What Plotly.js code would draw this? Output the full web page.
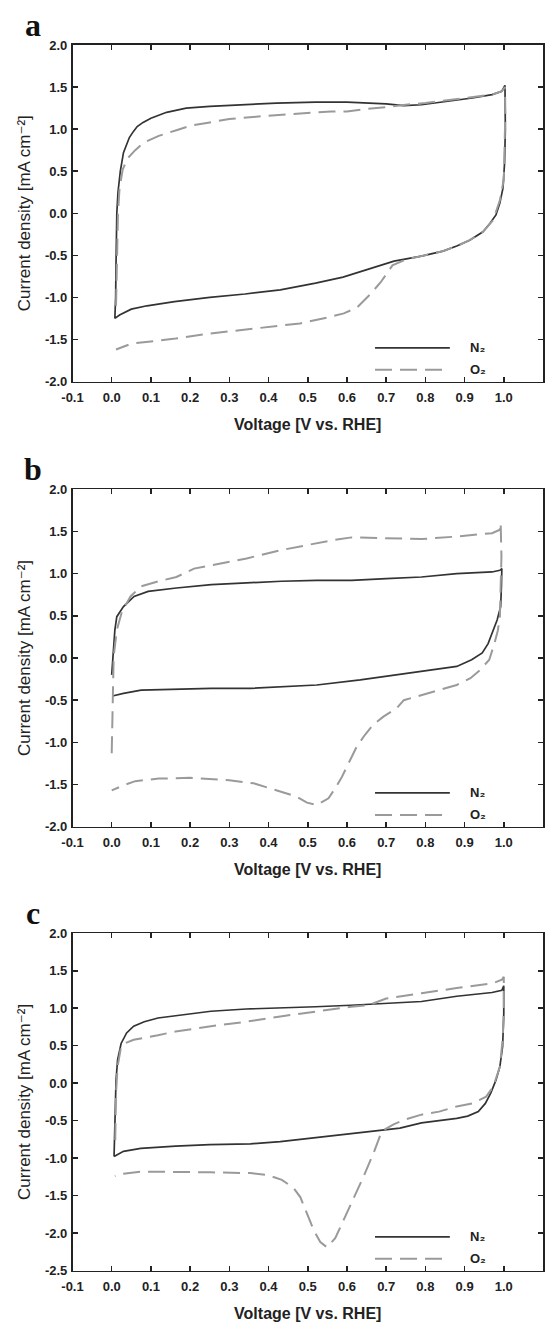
<!DOCTYPE html>
<html>
<head>
<meta charset="utf-8">
<script src="https://cdn.plot.ly/plotly-3.0.1.min.js"></script>
<style>html,body{margin:0;padding:0;background:#fff;}#chart{width:551px;height:1323px;}</style>
</head>
<body>
<div id="chart"></div>
<script>
// ---------- DATA ----------
// Panel a
const aN2V = [0.008,0.010,0.011,0.012,0.013,0.016,0.022,0.030,0.036,0.045,0.055,0.065,0.08,0.10,0.14,0.19,0.25,0.34,0.42,0.52,0.60,0.70,0.745,0.79,0.86,0.92,0.97,0.995,1.003,1.004,1.004,1.002,0.998,0.99,0.98,0.965,0.947,0.913,0.88,0.845,0.79,0.72,0.65,0.59,0.52,0.43,0.34,0.25,0.16,0.09,0.05,0.02,0.008];
const aN2J = [-1.25,-1.0,-0.6,-0.2,0.0,0.25,0.5,0.72,0.80,0.90,0.97,1.03,1.08,1.13,1.20,1.25,1.27,1.29,1.31,1.32,1.32,1.30,1.28,1.29,1.33,1.37,1.41,1.45,1.52,1.3,1.0,0.6,0.3,0.12,-0.02,-0.12,-0.22,-0.32,-0.39,-0.45,-0.51,-0.57,-0.67,-0.76,-0.83,-0.91,-0.96,-1.0,-1.05,-1.10,-1.14,-1.21,-1.25];
const aO2V = [0.011,0.012,0.014,0.016,0.020,0.028,0.04,0.06,0.082,0.12,0.167,0.20,0.25,0.30,0.40,0.50,0.56,0.60,0.65,0.70,0.75,0.80,0.863,0.92,0.97,0.995,1.003,1.004,1.003,1.0,0.99,0.973,0.947,0.913,0.88,0.845,0.79,0.75,0.716,0.70,0.686,0.66,0.626,0.592,0.55,0.48,0.40,0.30,0.25,0.163,0.10,0.05,0.011];
const aO2J = [-1.10,-0.8,-0.5,0.0,0.3,0.52,0.65,0.75,0.84,0.92,0.99,1.04,1.08,1.12,1.16,1.19,1.21,1.21,1.24,1.26,1.29,1.31,1.35,1.38,1.41,1.45,1.50,1.2,0.9,0.4,0.155,-0.08,-0.22,-0.32,-0.39,-0.45,-0.51,-0.55,-0.62,-0.72,-0.82,-0.96,-1.12,-1.19,-1.24,-1.31,-1.35,-1.40,-1.43,-1.49,-1.52,-1.55,-1.62];
// Panel b
const bN2V = [0.0,0.003,0.006,0.008,0.013,0.03,0.057,0.093,0.165,0.254,0.344,0.433,0.523,0.612,0.70,0.79,0.88,0.97,0.99,0.995,0.994,0.992,0.983,0.974,0.96,0.945,0.918,0.88,0.79,0.70,0.634,0.523,0.433,0.354,0.254,0.165,0.075,0.03,0.002];
const bN2J = [-0.20,0.05,0.17,0.33,0.49,0.61,0.73,0.79,0.83,0.87,0.89,0.91,0.92,0.92,0.94,0.96,1.0,1.02,1.04,1.06,0.85,0.61,0.45,0.33,0.17,0.06,-0.02,-0.10,-0.16,-0.22,-0.26,-0.32,-0.34,-0.36,-0.36,-0.37,-0.38,-0.42,-0.45];
const bO2V = [0.0,0.002,0.005,0.013,0.026,0.048,0.075,0.12,0.165,0.21,0.254,0.30,0.344,0.433,0.523,0.567,0.612,0.70,0.79,0.88,0.97,0.99,0.992,0.994,0.992,0.99,0.985,0.976,0.963,0.94,0.915,0.88,0.835,0.79,0.745,0.727,0.693,0.667,0.646,0.625,0.608,0.587,0.570,0.553,0.523,0.498,0.472,0.430,0.404,0.362,0.30,0.20,0.12,0.06,0.03,0.0];
const bO2J = [-1.13,-0.46,0.02,0.33,0.55,0.73,0.85,0.91,0.96,1.06,1.10,1.14,1.18,1.28,1.36,1.40,1.43,1.42,1.41,1.44,1.48,1.52,1.60,1.2,0.73,0.49,0.33,0.17,-0.02,-0.14,-0.24,-0.32,-0.38,-0.44,-0.50,-0.595,-0.695,-0.79,-0.91,-1.05,-1.21,-1.41,-1.545,-1.663,-1.743,-1.715,-1.644,-1.585,-1.545,-1.485,-1.45,-1.42,-1.43,-1.46,-1.51,-1.57];
// Panel c
const cN2V = [0.006,0.009,0.011,0.015,0.024,0.038,0.056,0.083,0.118,0.163,0.253,0.343,0.43,0.52,0.61,0.70,0.79,0.88,0.97,0.995,1.0,1.0,0.997,0.99,0.98,0.967,0.953,0.935,0.908,0.88,0.79,0.735,0.70,0.61,0.52,0.43,0.354,0.25,0.163,0.074,0.03,0.006];
const cN2J = [-0.98,-0.40,0.04,0.31,0.53,0.67,0.76,0.82,0.87,0.90,0.96,0.99,1.0,1.02,1.04,1.07,1.09,1.16,1.21,1.24,1.30,0.93,0.49,0.22,0.04,-0.13,-0.27,-0.38,-0.44,-0.47,-0.53,-0.60,-0.62,-0.67,-0.73,-0.78,-0.81,-0.82,-0.84,-0.87,-0.91,-0.98];
const cO2V = [0.009,0.011,0.015,0.024,0.033,0.056,0.118,0.163,0.253,0.343,0.43,0.52,0.61,0.655,0.68,0.70,0.79,0.88,0.97,0.995,1.0,1.0,0.997,0.99,0.973,0.955,0.92,0.88,0.835,0.79,0.745,0.719,0.689,0.668,0.642,0.617,0.591,0.570,0.549,0.532,0.515,0.498,0.481,0.464,0.434,0.396,0.354,0.253,0.163,0.074,0.03,0.008];
const cO2J = [-0.76,-0.13,0.22,0.49,0.53,0.58,0.64,0.69,0.76,0.82,0.89,0.96,1.02,1.04,1.09,1.13,1.20,1.27,1.33,1.38,1.42,0.93,0.58,0.22,-0.05,-0.18,-0.27,-0.31,-0.38,-0.42,-0.49,-0.55,-0.64,-0.93,-1.25,-1.54,-1.85,-2.07,-2.19,-2.12,-1.96,-1.74,-1.52,-1.40,-1.29,-1.225,-1.20,-1.19,-1.18,-1.18,-1.21,-1.24];

// Tick labels
const xTickVals = [-0.1,0.0,0.1,0.2,0.3,0.4,0.5,0.6,0.7,0.8,0.9,1.0,1.1];
const xTickText = ['-0.1','0.0','0.1','0.2','0.3','0.4','0.5','0.6','0.7','0.8','0.9','1.0','1.1'];
const yTickValsAB = [-2.0,-1.5,-1.0,-0.5,0.0,0.5,1.0,1.5,2.0];
const yTickTextAB = ['-2.0','-1.5','-1.0','-0.5','0.0','0.5','1.0','1.5','2.0'];
const yTickValsC = [-2.5,-2.0,-1.5,-1.0,-0.5,0.0,0.5,1.0,1.5,2.0];
const yTickTextC = ['-2.5','-2.0','-1.5','-1.0','-0.5','0.0','0.5','1.0','1.5','2.0'];
const panelLetters = ['a','b','c'];
const seriesNames = ['N\u2082','O\u2082'];

// ---------- LAYOUT ----------
const W = 551, H = 1323;
const FONT = 'Liberation Sans, Arial, DejaVu Sans, sans-serif';
const INK = '#222222';
const N2_COLOR = '#333333';
const O2_COLOR = '#9a9a9a';
const panels = [
  {top: 45,    bot: 381.5,  yr: [-2, 2],   tv: yTickValsAB, tt: yTickTextAB, v1: aN2V, j1: aN2J, v2: aO2V, j2: aO2J},
  {top: 489.3, bot: 826.7,  yr: [-2, 2],   tv: yTickValsAB, tt: yTickTextAB, v1: bN2V, j1: bN2J, v2: bO2V, j2: bO2J},
  {top: 933.3, bot: 1270.5, yr: [-2.5, 2], tv: yTickValsC,  tt: yTickTextC,  v1: cN2V, j1: cN2J, v2: cO2V, j2: cO2J}
];
const xdom = [72.5 / W, 543 / W];

const traces = [];
const layout = {
  width: W, height: H,
  margin: {l: 0, r: 0, t: 0, b: 0},
  paper_bgcolor: '#ffffff', plot_bgcolor: '#ffffff',
  showlegend: false,
  font: {family: FONT, color: INK},
  annotations: [], shapes: []
};

panels.forEach((p, i) => {
  const k = i === 0 ? '' : String(i + 1);
  const xa = 'x' + k, ya = 'y' + k;
  traces.push({x: p.v1, y: p.j1, xaxis: xa, yaxis: ya, type: 'scatter', mode: 'lines', name: 'N2',
    line: {color: N2_COLOR, width: 1.7}, hoverinfo: 'skip'});
  traces.push({x: p.v2, y: p.j2, xaxis: xa, yaxis: ya, type: 'scatter', mode: 'lines', name: 'O2',
    line: {color: O2_COLOR, width: 2, dash: '17px,8px'}, hoverinfo: 'skip'});

  layout['xaxis' + k] = {
    domain: xdom, anchor: ya, range: [-0.1, 1.1],
    tickmode: 'array', tickvals: xTickVals, ticktext: xTickText,
    ticks: 'inside', ticklen: 5, tickwidth: 1.5, tickcolor: INK,
    showline: true, linecolor: INK, linewidth: 1.6, mirror: 'allticks',
    showgrid: false, zeroline: false, ticklabelstandoff: 3,
    tickfont: {family: FONT, size: 13, color: INK, weight: 'bold'},
    title: {text: 'Voltage [V vs. RHE]', font: {family: FONT, size: 16, color: INK, weight: 'bold'}, standoff: 15}
  };
  layout['yaxis' + k] = {
    domain: [1 - p.bot / H, 1 - p.top / H], anchor: xa, range: p.yr,
    tickmode: 'array', tickvals: p.tv, ticktext: p.tt,
    ticks: 'inside', ticklen: 5, tickwidth: 1.5, tickcolor: INK,
    showline: true, linecolor: INK, linewidth: 1.6, mirror: 'allticks',
    showgrid: false, zeroline: false, ticklabelstandoff: 1,
    tickfont: {family: FONT, size: 13, color: INK, weight: 'bold'},
    title: {text: 'Current density [mA cm\u207B\u00B2]', font: {family: FONT, size: 17, color: INK}, standoff: 10}
  };

  // panel letter
  layout.annotations.push({text: panelLetters[i], xref: 'paper', yref: 'paper',
    x: 33 / W, y: 1 - (p.top - 20) / H, xanchor: 'center', yanchor: 'middle', showarrow: false,
    font: {family: 'Liberation Serif, Times New Roman, serif', size: 32, color: '#111', weight: 'bold'}});

  // legend (inside bottom-right)
  const legY = [0.10, 0.035];
  const legStyle = [{color: N2_COLOR, width: 1.7, dash: 'solid'}, {color: O2_COLOR, width: 2, dash: '17px,8px'}];
  legY.forEach((ly, m) => {
    layout.shapes.push({type: 'line', xref: xa + ' domain', yref: ya + ' domain',
      x0: 0.643, x1: 0.802, y0: ly, y1: ly, line: legStyle[m]});
    layout.annotations.push({text: seriesNames[m], xref: xa + ' domain', yref: ya + ' domain',
      x: 0.84, y: ly, xanchor: 'left', yanchor: 'middle', showarrow: false,
      font: {family: FONT, size: 13, color: INK, weight: 'bold'}});
  });
});

Plotly.newPlot('chart', traces, layout, {staticPlot: true, displayModeBar: false});
</script>
</body>
</html>
